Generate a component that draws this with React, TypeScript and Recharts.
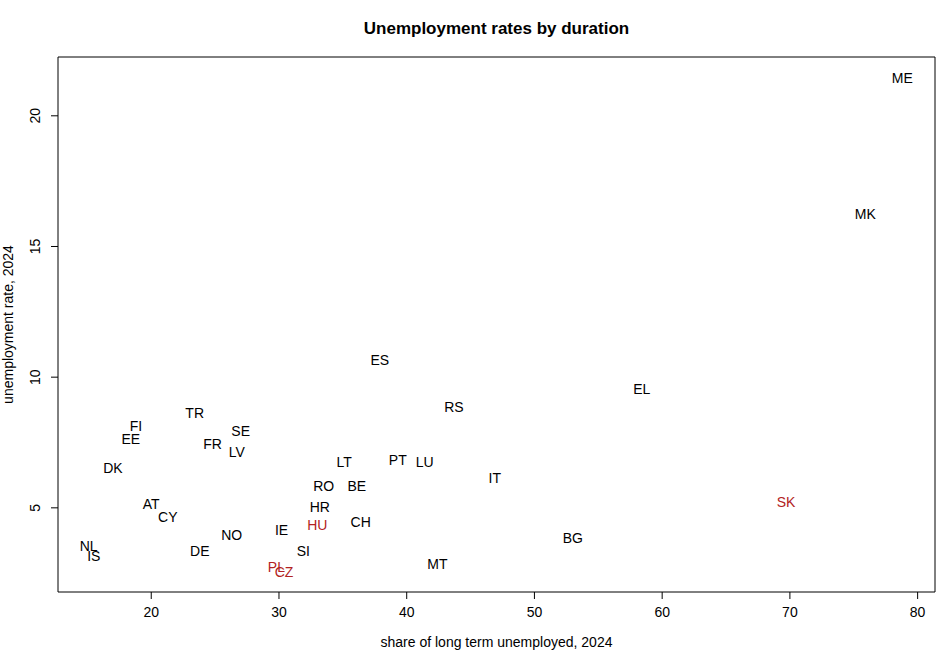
import React from 'react';
import { ScatterChart, Scatter, XAxis, YAxis, ReferenceArea, Label } from 'recharts';

const countries = ['ME', 'MK', 'ES', 'EL', 'RS', 'TR', 'FI', 'SE', 'EE', 'FR', 'LV', 'PT', 'LU', 'LT', 'DK', 'IT', 'RO', 'BE', 'SK', 'AT', 'HR', 'CY', 'CH', 'HU', 'IE', 'NO', 'BG', 'NL', 'DE', 'SI', 'IS', 'PL', 'MT', 'CZ'];
const longTermShare = [78.8, 75.9, 37.9, 58.4, 43.7, 23.4, 18.8, 27.0, 18.4, 24.8, 26.7, 39.3, 41.4, 35.1, 17.0, 46.9, 33.5, 36.1, 69.7, 20.0, 33.2, 21.3, 36.4, 33.0, 30.2, 26.3, 53.0, 15.1, 23.8, 31.9, 15.5, 29.8, 42.4, 30.4];
const unemploymentRate = [21.5, 16.3, 10.7, 9.6, 8.9, 8.7, 8.2, 8.0, 7.7, 7.5, 7.2, 6.9, 6.8, 6.8, 6.6, 6.2, 5.9, 5.9, 5.3, 5.2, 5.1, 4.7, 4.5, 4.4, 4.2, 4.0, 3.9, 3.6, 3.4, 3.4, 3.2, 2.8, 2.9, 2.6];
const highlighted = ['SK', 'HU', 'PL', 'CZ'];
const xTicks = [20, 30, 40, 50, 60, 70, 80];
const yTicks = [5, 10, 15, 20];

const xDomain: [number, number] = [12.7, 81.36];
const yDomain: [number, number] = [1.78, 22.25];

const data = countries.map((c, i) => ({ name: c, x: longTermShare[i], y: unemploymentRate[i] }));

const FONT = '"Liberation Sans", Arial, Helvetica, sans-serif';

const LabelShape = (props: any) => {
  const { cx, cy, payload } = props;
  const red = highlighted.includes(payload.name);
  return (
    <text x={cx} y={cy} dy={1.5} textAnchor="middle" dominantBaseline="central" fontSize={14} fontFamily={FONT} fill={red ? '#B22222' : '#000'}>
      {payload.name}
    </text>
  );
};

const YTick = (props: any) => {
  const { x, y, payload } = props;
  return (
    <text x={x} y={y} transform={`rotate(-90, ${x}, ${y})`} textAnchor="middle" fontSize={14} fontFamily={FONT} fill="#000">
      {payload.value}
    </text>
  );
};

const XTick = (props: any) => {
  const { x, y, payload } = props;
  return (
    <text x={x} y={y} textAnchor="middle" dominantBaseline="hanging" fontSize={14} fontFamily={FONT} fill="#000">
      {payload.value}
    </text>
  );
};

export default function App() {
  return (
    <div style={{ position: 'absolute', left: 0, top: 0, width: 950, height: 650, background: '#fff' }}>
      <div style={{ position: 'absolute', top: 19, left: 0, width: 993, textAlign: 'center', fontFamily: FONT, fontWeight: 'bold', fontSize: 17 }}>
        Unemployment rates by duration
      </div>
      <ScatterChart width={950} height={650} margin={{ top: 57, right: 15, bottom: 0, left: 0 }}>
        <XAxis
          type="number"
          dataKey="x"
          domain={xDomain}
          ticks={xTicks}
          allowDataOverflow
          axisLine={false}
          tickLine={{ stroke: '#000' }}
          tickSize={7}
          tickMargin={8}
          tick={<XTick />}
          height={58}
        >
          <Label value="share of long term unemployed, 2024" position="insideBottom" offset={3} style={{ fontFamily: FONT, fontSize: 14, fill: '#000' }} />
        </XAxis>
        <YAxis
          type="number"
          dataKey="y"
          domain={yDomain}
          ticks={yTicks}
          allowDataOverflow
          axisLine={false}
          tickLine={{ stroke: '#000' }}
          tickSize={7}
          tickMargin={11}
          tick={<YTick />}
          width={58}
        >
          <Label value="unemployment rate, 2024" angle={-90} position="insideLeft" offset={8} style={{ fontFamily: FONT, fontSize: 14, fill: '#000', textAnchor: 'middle' }} />
        </YAxis>
        <ReferenceArea x1={xDomain[0]} x2={xDomain[1]} y1={yDomain[0]} y2={yDomain[1]} fill="none" stroke="#000" strokeWidth={1} />
        <Scatter data={data} shape={<LabelShape />} isAnimationActive={false} />
      </ScatterChart>
    </div>
  );
}
